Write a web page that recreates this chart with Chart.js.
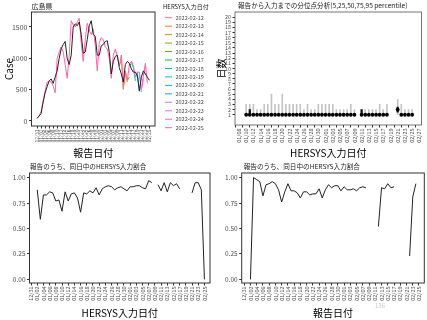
<!DOCTYPE html>
<html>
<head>
<meta charset="utf-8">
<script src="https://cdn.jsdelivr.net/npm/chart.js@4.4.1/dist/chart.umd.min.js"></script>
<style>
  body { margin: 0; background: #fff; }
  #wrap { position: relative; width: 427px; height: 320px; overflow: hidden; }
  canvas { position: absolute; }
</style>
</head>
<body>
<div id="wrap">
  <canvas id="cases" width="215" height="160" style="left:0;top:0"></canvas>
  <canvas id="delay" width="212" height="160" style="left:215px;top:0"></canvas>
  <canvas id="ratioInput" width="215" height="160" style="left:0;top:160px"></canvas>
  <canvas id="ratioReport" width="212" height="160" style="left:215px;top:160px"></canvas>
</div>
<script>
// day index: 0 = 2021-12-31
// Case by 報告日付 (black line)
const caseOfficial = [40, 80, 120, 300, 450, 550, 640, 670, 600, 700, 800, 1000, 1150, 1220, 1270, 1000, 900, 1050, 1500, 1550,
  1520, 1580, 1380, 1080, 1100, 1300, 1520, 1600, 1380, 1350, 1050, 1050, 1200, 1220, 1270, 1280, 1100, 750, 950, 1030,
  1050, 850, 750, 620, 900, 950, 920, 830, 780, 780, 720, 480, 700, 800, 750, 700, 650];
// Case as of HERSYS input 2022-02-25
const caseLatest = [50, 80, 150, 320, 480, 620, 640, 620, 560, 450, 1000, 1100, 1180, 1100, 900, 680, 1050, 1600, 1530, 1500,
  1580, 1640, 1250, 950, 1300, 1560, 1450, 1380, 1470, 1200, 800, 1250, 1330, 1300, 1180, 1150, 1000, 680, 1050, 1150,
  1020, 880, 1050, 520, 800, 650, 900, 950, 880, 700, 780, 780, 500, 720, 920, 600];
const legendDates = ['2022-02-12', '2022-02-13', '2022-02-14', '2022-02-15', '2022-02-16', '2022-02-17', '2022-02-18',
  '2022-02-19', '2022-02-20', '2022-02-21', '2022-02-22', '2022-02-23', '2022-02-24', '2022-02-25'];
// earlier input dates: only the last points differ from the latest series
const tailStart = [41, 42, 43, 44, 45, 46, 47, 48, 49, 50, 51, 52, 53];
const tailValues = [[880, 980], [1050, 500], [520, 760], [800, 620], [650, 700], [900, 900], [950, 850],
  [880, 640], [700, 740], [780, 470], [780, 460], [500, 680], [720, 880]];

// 報告から入力までの日数 percentiles by HERSYS input day
const inputDays = [10, 11, 12, 13, 14, 15, 16, 17, 18, 19, 20, 21, 22, 23, 24, 25, 26, 27, 28, 29, 30, 31, 32, 33, 34, 35, 36, 37, 38, 39, 40,
  42, 43, 44, 45, 46, 47, 48, 49,
  52, 53, 54, 55, 56];
const p05 = [1, 1, 1, 1, 1, 1, 1, 1, 1, 1, 1, 1, 1, 1, 1, 1, 1, 1, 1, 1, 1, 1, 1, 1, 1, 1, 1, 1, 1, 1, 1,
  1, 1, 1, 1, 1, 1, 1, 1,
  1, 1, 1, 1, 1];
const p25 = [1, 1, 1, 1, 1, 1, 1, 1, 1, 1, 1, 1, 1, 1, 1, 1, 1, 1, 1, 1, 1, 1, 1, 1, 1, 1, 1, 1, 1, 1, 1,
  1, 1, 1, 1, 1, 1, 1, 1,
  1.5, 1, 1, 1, 1];
const p50 = [1, 1, 1, 1, 1, 1, 1, 1, 1, 1, 1, 1, 1, 1, 1, 1, 1, 1, 1, 1, 1, 1, 1, 1, 1, 1, 1, 1, 1, 1, 1,
  1, 1, 1, 1, 1, 1, 1, 1,
  2, 1, 1, 1, 1];
const p75 = [1, 2, 1, 1, 1, 1, 1, 1, 1, 1, 1, 1, 1, 1, 1, 1, 1, 1, 1, 1, 1, 1, 1, 1, 1, 1, 1, 1, 1, 1, 1,
  2, 1, 1, 1, 1, 1, 1, 1,
  2.5, 1, 1, 1, 1];
const p95 = [3, 3, 3, 2, 2, 3, 3, 5, 3, 3, 5, 3, 3, 3, 3, 3, 2, 3, 2, 2, 3, 3, 3, 3, 3, 2, 2, 2, 2, 3, 2,
  2, 2, 2, 2, 2, 3, 2, 3,
  4, 3, 2, 2, 2];

// 同日中のHERSYS入力割合, index = day (0 = 12/31)
const ratioByInput = [null, null, 0.88, 0.59, 0.83, 0.83, 0.86, 0.85, 0.77, 0.78, 0.67, 0.86, 0.77, 0.84, 0.85, 0.80, 0.66, 0.85, 0.84, 0.87,
  0.85, 0.90, 0.83, 0.89, 0.91, 0.92, 0.91, 0.88, 0.90, 0.91, 0.89, 0.87, 0.91, 0.91, 0.92, 0.92, 0.90, 0.89, 0.97, 0.95,
  null, 0.93, 0.87, 0.95, 0.86, 0.95, 0.92, 0.94, 0.89, null, null, null, 0.85, 0.95, 0.95, 0.88, 0.00];
const ratioByReport = [null, null, 0.00, 1.00, 0.98, 0.96, 0.82, 0.93, 0.94, 0.96, 0.94, 0.88, 0.76, 0.86, 0.94, 0.87, 0.87, 0.85, 0.80, 0.86,
  0.86, 0.83, 0.84, 0.84, 0.89, 0.80, 0.88, 0.93, 0.90, 0.92, 0.92, 0.87, 0.91, 0.88, 0.88, 0.89, 0.87, 0.90, 0.91, 0.90,
  null, null, null, 0.52, 0.90, 0.89, 0.94, 0.90, 0.91, null, null, null, null, 0.23, 0.81, 0.94, null];

const seriesColors = ['#F8766D', '#E38900', '#C49A00', '#99A800', '#53B400', '#00BC56', '#00C094',
  '#00BFC4', '#00B6EB', '#06A4FF', '#A58AFF', '#DF70F8', '#FB61D7', '#FF66A8'];

const FONT = '"Noto Sans CJK JP", "Noto Sans", sans-serif';
Chart.defaults.font.family = FONT;
Chart.defaults.color = '#4d4d4d';

function dayLabel(d) {
  const t = new Date(2021, 11, 31 + d);
  return String(t.getMonth() + 1).padStart(2, '0') + '/' + String(t.getDate()).padStart(2, '0');
}

// ggplot-like box round the panel plus its title
const panelFrame = {
  id: 'panelFrame',
  afterDatasetsDraw(chart, args, o) {
    const { ctx, chartArea: a } = chart;
    ctx.save();
    ctx.strokeStyle = o.color;
    ctx.lineWidth = o.width;
    ctx.strokeRect(a.left, a.top, a.right - a.left, a.bottom - a.top);
    ctx.fillStyle = '#1a1a1a';
    ctx.font = o.titleSize + 'px ' + FONT;
    ctx.textBaseline = 'middle';
    ctx.fillText(o.title, a.left + o.titleDx, o.titleY);
    if (o.note) {
      ctx.fillStyle = '#c8c8c8';
      ctx.font = '6px ' + FONT;
      ctx.fillText(o.note, o.noteX, o.noteY);
    }
    ctx.restore();
  }
};

const hersysLegend = {
  id: 'hersysLegend',
  afterDraw(chart, args, o) {
    const ctx = chart.ctx;
    ctx.save();
    ctx.textBaseline = 'middle';
    ctx.fillStyle = '#1a1a1a';
    ctx.font = '6px ' + FONT;
    ctx.fillText(o.title, o.x, o.y);
    legendDates.forEach((lab, i) => {
      const y = o.y + o.first + i * o.step;
      ctx.strokeStyle = seriesColors[i];
      ctx.lineWidth = 1;
      ctx.beginPath();
      ctx.moveTo(o.x + 2, y);
      ctx.lineTo(o.x + 9, y);
      ctx.stroke();
      ctx.fillStyle = '#4d4d4d';
      ctx.font = '5.5px ' + FONT;
      ctx.fillText(lab, o.x + 12.5, y);
    });
    ctx.restore();
  }
};

function dayAxis(min, max, first, last, height, title, size) {
  return {
    type: 'linear', min: min, max: max, offset: false,
    afterBuildTicks: s => {
      const t = [];
      for (let d = first; d <= last; d += 2) t.push({ value: d });
      s.ticks = t;
    },
    afterFit: s => { s.height = height; },
    grid: { drawOnChartArea: false, tickLength: 2.5, color: '#333' },
    border: { display: false },
    ticks: { autoSkip: false, minRotation: 90, maxRotation: 90, padding: 1, font: { size: size }, callback: v => dayLabel(v) },
    title: { display: true, text: title, color: '#000', font: { size: 10 }, padding: { top: 0, bottom: 1 } }
  };
}

function valueAxis(min, max, values, width, size, fmt, title, titlePad) {
  return {
    type: 'linear', min: min, max: max,
    afterBuildTicks: s => { s.ticks = values.map(v => ({ value: v })); },
    afterFit: s => { s.width = width; },
    grid: { drawOnChartArea: false, tickLength: 2.5, color: '#333' },
    border: { display: false },
    ticks: { autoSkip: false, padding: 1.5, font: { size: size }, callback: fmt },
    title: title ? { display: true, text: title, color: '#000', font: { size: 10 }, padding: { top: titlePad, bottom: 0 } } : { display: false }
  };
}

const common = {
  responsive: false,
  animation: false,
  events: [],
  elements: { point: { radius: 0 }, line: { borderWidth: 1, tension: 0 } }
};

// Panel 1: Case by 報告日付
const caseSets = [
  { data: caseOfficial.map((v, d) => ({ x: d, y: v })), borderColor: '#222', order: 0 },
  { data: caseLatest.map((v, d) => ({ x: d, y: v })), borderColor: seriesColors[13], order: 1 }
];
tailValues.forEach((vals, i) => {
  caseSets.push({
    data: vals.map((v, k) => ({ x: tailStart[i] + k, y: v })),
    borderColor: seriesColors[i], order: 2 + i
  });
});

new Chart(document.getElementById('cases'), {
  type: 'line',
  data: { datasets: caseSets },
  options: Object.assign({}, common, {
    layout: { padding: { left: 0, right: 60, top: 12, bottom: 0 } },
    plugins: {
      legend: { display: false }, tooltip: { enabled: false },
      panelFrame: { color: '#333', width: 1, title: '広島県', titleSize: 7, titleDx: 0, titleY: 6 },
      hersysLegend: { title: 'HERSYS入力日付', x: 163, y: 7, first: 10.7, step: 8.46 }
    },
    scales: {
      x: dayAxis(-2.8, 58.8, 0, 56, 34, '報告日付', 5),
      y: valueAxis(-80, 1739, [0, 500, 1000, 1500], 31.5, 7, v => String(v), 'Case', 3)
    }
  }),
  plugins: [panelFrame, hersysLegend]
});

// Panel 2: delay percentiles
new Chart(document.getElementById('delay'), {
  type: 'bar',
  data: {
    datasets: [
      { type: 'line', data: inputDays.map((d, i) => ({ x: d, y: p50[i] })), showLine: false,
        pointRadius: 1.9, pointBackgroundColor: '#000', pointBorderWidth: 0, order: 0 },
      { data: inputDays.map((d, i) => ({ x: d, y: [p25[i], p75[i]] })), backgroundColor: '#111',
        barThickness: 1.6, grouped: false, order: 1 },
      { data: inputDays.map((d, i) => ({ x: d, y: [p05[i], p95[i]] })), backgroundColor: '#c4c4c4',
        barThickness: 1, grouped: false, order: 2 }
    ]
  },
  options: Object.assign({}, common, {
    layout: { padding: { left: 0, right: 3, top: 12, bottom: 0 } },
    plugins: {
      legend: { display: false }, tooltip: { enabled: false },
      panelFrame: { color: '#555', width: 0.8, title: '報告から入力までの分位点分析(5,25,50,75,95 percentile)', titleSize: 6.6, titleDx: 3, titleY: 5 }
    },
    scales: {
      x: dayAxis(6.9, 58.6, 8, 58, 35, 'HERSYS入力日付', 5.5),
      y: valueAxis(-1, 21, [1, 2, 3, 4, 5, 6, 7, 8, 9, 10, 11, 12, 13, 14, 15, 16, 17, 18, 19, 20], 20, 5.3, v => String(v), '日数', 0)
    }
  }),
  plugins: [panelFrame]
});

// Panels 3 and 4: share entered on the same day
const ratioTicks = [0, 0.25, 0.5, 0.75, 1];

new Chart(document.getElementById('ratioInput'), {
  type: 'line',
  data: { datasets: [{ data: ratioByInput.map((v, d) => ({ x: d, y: v })), borderColor: '#222', spanGaps: false }] },
  options: Object.assign({}, common, {
    layout: { padding: { left: 0, right: 5, top: 13, bottom: 0 } },
    plugins: {
      legend: { display: false }, tooltip: { enabled: false },
      panelFrame: { color: '#333', width: 1, title: '報告のうち、同日中のHERSYS入力割合', titleSize: 6.6, titleDx: 0.5, titleY: 6 }
    },
    scales: {
      x: dayAxis(-0.5, 57.8, 0, 56, 37, 'HERSYS入力日付', 5.5),
      y: valueAxis(-0.035, 1.045, ratioTicks, 29.5, 6.5, v => v.toFixed(2), null, 0)
    }
  }),
  plugins: [panelFrame]
});

new Chart(document.getElementById('ratioReport'), {
  type: 'line',
  data: { datasets: [{ data: ratioByReport.map((v, d) => ({ x: d, y: v })), borderColor: '#222', spanGaps: false }] },
  options: Object.assign({}, common, {
    layout: { padding: { left: 0, right: 2.7, top: 13, bottom: 0 } },
    plugins: {
      legend: { display: false }, tooltip: { enabled: false },
      panelFrame: { color: '#333', width: 1, title: '報告のうち、同日中のHERSYS入力割合', titleSize: 6.6, titleDx: 2, titleY: 6,
        note: '136', noteX: 160, noteY: 146 }
    },
    scales: {
      x: dayAxis(-0.8, 57.7, 0, 56, 37, '報告日付', 5.5),
      y: valueAxis(-0.035, 1.045, ratioTicks, 26.7, 6.5, v => v.toFixed(2), null, 0)
    }
  }),
  plugins: [panelFrame]
});
</script>
</body>
</html>
